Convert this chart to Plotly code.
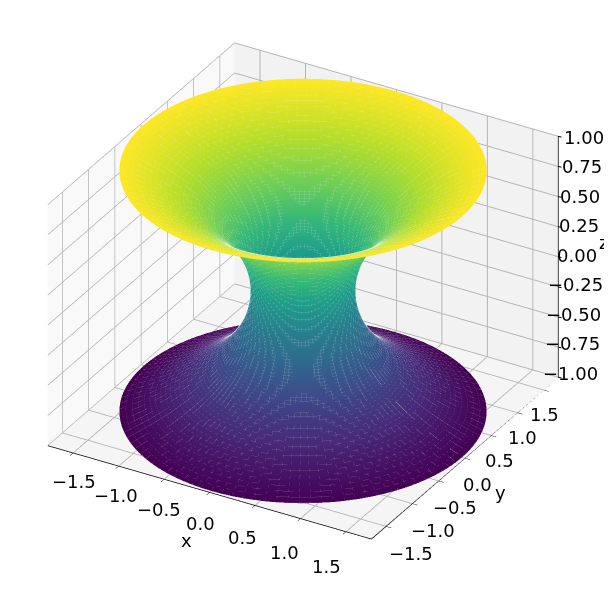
import numpy as np
import plotly.graph_objects as go

# radial profile (upper half, mirrored below)
z_levels = [round(0.02 * i, 2) for i in range(51)]
radius = [0.500, 0.5004, 0.5015, 0.5033, 0.5059, 0.5093, 0.5134, 0.5183, 0.5239, 0.5303,
          0.5375, 0.5455, 0.5543, 0.5639, 0.5744, 0.5857, 0.5979, 0.6111, 0.6250, 0.6400,
          0.6557, 0.6725, 0.6903, 0.7090, 0.7288, 0.7495, 0.7715, 0.7945, 0.8188, 0.8442,
          0.8710, 0.8992, 0.9288, 0.9597, 0.9922, 1.0262, 1.0625, 1.0992, 1.1376, 1.1777,
          1.2198, 1.2636, 1.3092, 1.3568, 1.4062, 1.4580, 1.5118, 1.5679, 1.6262, 1.6869, 1.7500]
ticks_xy = [-1.5, -1.0, -0.5, 0.0, 0.5, 1.0, 1.5]
ticks_z = [-1.0, -0.75, -0.5, -0.25, 0.0, 0.25, 0.5, 0.75, 1.0]
xy_lim = 1.78
z_lim = 1.0

zz = np.array([-v for v in z_levels[:0:-1]] + z_levels)
rr = np.array(radius[:0:-1] + radius)
theta = np.radians(np.arange(0, 360.1, 3.6))
X = np.outer(rr, np.cos(theta))
Y = np.outer(rr, np.sin(theta))
Z = np.outer(zz, np.ones_like(theta))

fig = go.Figure()
fig.add_trace(go.Surface(
    x=X, y=Y, z=Z, surfacecolor=Z, colorscale="Viridis", cmin=-1, cmax=1,
    showscale=False, lighting=dict(ambient=1, diffuse=0, specular=0, roughness=1, fresnel=0),
    hoverinfo="skip"))

# faint facet seams, lifted a hair towards the viewer
lift = np.array([0.006, -0.011, 0.008])
lx, ly, lz = [], [], []
for i in range(len(zz)):
    lx += list(X[i] + lift[0]) + [None]; ly += list(Y[i] + lift[1]) + [None]; lz += list(Z[i] + lift[2]) + [None]
for j in range(len(theta)):
    lx += list(X[:, j] + lift[0]) + [None]; ly += list(Y[:, j] + lift[1]) + [None]; lz += list(Z[:, j] + lift[2]) + [None]
fig.add_trace(go.Scatter3d(x=lx, y=ly, z=lz, mode="lines", line=dict(color="white", width=1), opacity=0.2, hoverinfo="skip"))

# axis spines
fig.add_trace(go.Scatter3d(
    x=[-xy_lim, xy_lim, xy_lim, xy_lim], y=[-xy_lim, -xy_lim, xy_lim, xy_lim], z=[-z_lim, -z_lim, -z_lim, z_lim],
    mode="lines", line=dict(color="black", width=1.5), hoverinfo="skip"))

FONT = dict(family="DejaVu Sans", size=18, color="black")

def label(x, y, z, text, dx, dy):
    return dict(x=x, y=y, z=z, text=text, showarrow=False, xshift=dx, yshift=-dy, font=FONT,
                xanchor="center", yanchor="middle")

def tick(x, y, z, dx, dy):
    return dict(x=x, y=y, z=z, text=" ", showarrow=True, arrowhead=0, arrowwidth=1, arrowcolor="black",
                ax=dx, ay=dy, standoff=0, startstandoff=0, font=dict(size=1))

edge = xy_lim * 0.999
annots = []
for v in ticks_xy:
    annots.append(label(v, -edge, -z_lim, ("%.1f" % v).replace("-", "\u2212"), -9 - 6.7 * v, 31.5 + 2 * v))
    annots.append(label(edge, v, -z_lim, ("%.1f" % v).replace("-", "\u2212"), 13 - 8 * v, 26 - v))
for v in ticks_z:
    annots.append(label(edge, edge, v, ("%.2f" % v).replace("-", "\u2212"), 19 + 6.5 * v, -1.5 + 2.5 * v))
    annots.append(tick(edge, edge, v, 5, 1))
annots.append(label(0, -edge, -z_lim, "x", -23, 48))
annots.append(label(edge, 0, -z_lim, "y", 36, 34))
annots.append(label(edge, edge, 0, "z", 45, -14))

def axis(vals, lim, bg, show_ticks=True):
    return dict(title=dict(text=""), tickvals=vals, range=[-lim, lim], showticklabels=False,
                showbackground=True, backgroundcolor=bg,
                gridcolor="#b4b4b4", gridwidth=2, showline=False,
                ticks="outside" if show_ticks else "", ticklen=6, tickcolor="black", zeroline=False,
                showspikes=False, autorange=False)

cx, cy, cz = 0.0323, 0.0186, -0.047
fig.update_layout(
    width=612, height=590, margin=dict(l=0, r=0, t=0, b=0), paper_bgcolor="white",
    showlegend=False,
    scene=dict(
        domain=dict(x=[0, 1], y=[0, 1]),
        xaxis=axis(ticks_xy, xy_lim, "#f9f9f9"),
        yaxis=axis(ticks_xy, xy_lim, "#f2f2f2"),
        zaxis=axis(ticks_z, z_lim, "#f5f5f5", False),
        aspectmode="manual", aspectratio=dict(x=1.267, y=1.267, z=0.943),
        annotations=annots,
        camera=dict(eye=dict(x=1.299 + cx, y=-2.25 + cy, z=1.5 + cz), center=dict(x=cx, y=cy, z=cz), up=dict(x=0, y=0, z=1),
                    projection=dict(type="orthographic")),
    ))
fig.write_html("out.html")
